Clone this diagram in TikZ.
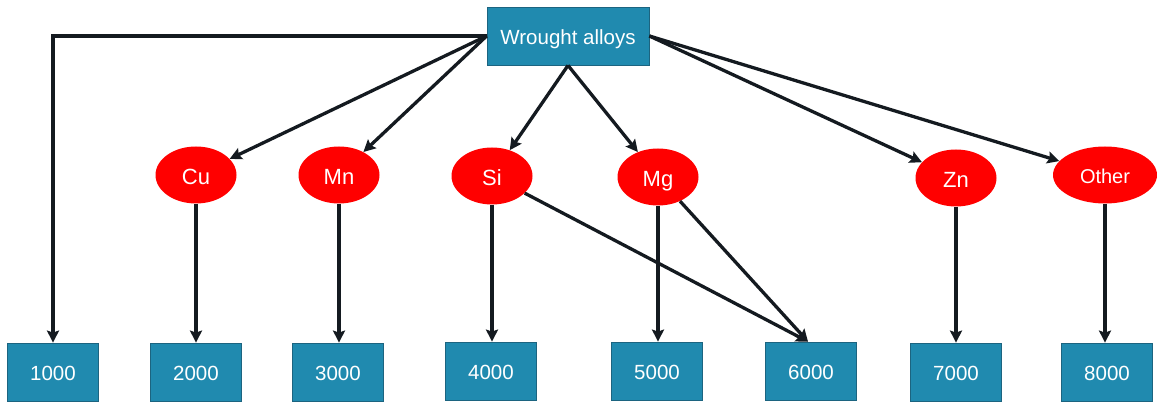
\documentclass[tikz,border=0pt]{standalone}
\usepackage{fontspec}
\setmainfont{Liberation Sans}
\usetikzlibrary{arrows.meta,shapes.geometric}
\definecolor{boxfill}{RGB}{32,138,175}
\definecolor{boxdraw}{RGB}{28,100,128}
\definecolor{ellred}{RGB}{255,0,0}
\definecolor{linec}{RGB}{20,26,32}
\begin{document}
\begin{tikzpicture}[x=1pt,y=-1pt,
  sbox/.style={draw=boxdraw,line width=0.8pt,fill=boxfill,text=white,minimum width=91pt,minimum height=58pt,inner sep=0pt,text height=16.5pt,text depth=0pt,font=\fontsize{20.5}{24}\selectfont},
  topbox/.style={sbox,minimum width=162pt},
  elem/.style={ellipse,fill=ellred,text=white,minimum width=81pt,minimum height=57pt,inner sep=0pt,text height=18.5pt,text depth=0pt,font=\fontsize{22}{26}\selectfont},
  arr/.style={draw=linec,line width=3.3pt,-{Stealth[length=12pt,width=12pt,inset=2pt]}}]
\useasboundingbox (0,0) rectangle (1157,403);
\node[topbox] (top) at (568,36) {Wrought alloys};
\node[elem] (cu) at (196,175) {Cu};
\node[elem] (mn) at (339,175) {Mn};
\node[elem] (si) at (492,176) {Si};
\node[elem] (mg) at (658,177) {Mg};
\node[elem] (zn) at (956,178) {Zn};
\node[elem,minimum width=104pt,text height=16.5pt,font=\fontsize{20}{24}\selectfont] (other) at (1105,175) {Other};
\node[sbox] (b1) at (53,372) {1000};
\node[sbox] (b2) at (196,372) {2000};
\node[sbox] (b3) at (338,372) {3000};
\node[sbox] (b4) at (491,371) {4000};
\node[sbox] (b5) at (657,371) {5000};
\node[sbox] (b6) at (811,371) {6000};
\node[sbox] (b7) at (956,372) {7000};
\node[sbox] (b8) at (1107,372) {8000};
\draw[arr] (top.west) -| (b1.north);
\draw[arr] (top.west) -- (cu);
\draw[arr] (top.west) -- (mn);
\draw[arr] (top.south) -- (si);
\draw[arr] (top.south) -- (mg);
\draw[arr] (top.east) -- (zn);
\draw[arr] (top.east) -- (other);
\draw[arr] (cu) -- (b2);
\draw[arr] (mn) -- (mn |- b3.north);
\draw[arr] (si) -- (si |- b4.north);
\draw[arr] (si) -- ([xshift=-3pt]b6.north);
\draw[arr] (mg) -- (mg |- b5.north);
\draw[arr] (mg) -- ([xshift=-3pt]b6.north);
\draw[arr] (zn) -- (b7);
\draw[arr] (other) -- (other |- b8.north);
\end{tikzpicture}
\end{document}
